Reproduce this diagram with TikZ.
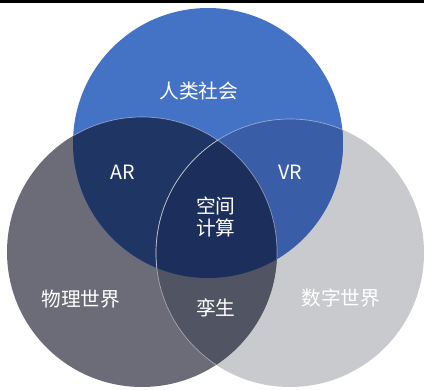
\documentclass[tikz,border=0pt]{standalone}
\usepackage{fontspec}
\newfontfamily\cjk{Noto Sans CJK SC}
\begin{document}
\begin{tikzpicture}[x={0.025cm},y={-0.025cm},
  lbl/.style={text=white,font=\cjk\fontsize{14}{16}\selectfont,inner sep=0pt,align=center},
  edge/.style={draw=white,draw opacity=0.45,line width=0.5pt}]
\definecolor{cTop}{RGB}{68,114,196}
\definecolor{cLeft}{RGB}{107,108,120}
\definecolor{cRight}{RGB}{201,202,206}
\definecolor{cAR}{RGB}{31,53,100}
\definecolor{cVR}{RGB}{58,93,168}
\definecolor{cMid}{RGB}{28,47,92}
\definecolor{cTwin}{RGB}{80,84,99}
\useasboundingbox (0,0) rectangle (424,390);
\fill[white] (0,0) rectangle (424,390);
\coordinate (T) at (208,143);
\coordinate (L) at (142,252);
\coordinate (R) at (290,253);
\def\rT{135}\def\rL{135}\def\rR{134}
% base circles
\fill[cRight] (R) circle[radius=\rR];
\fill[cLeft] (L) circle[radius=\rL];
\fill[cTop] (T) circle[radius=\rT];
% pairwise overlaps
\begin{scope}
  \clip (T) circle[radius=\rT];
  \fill[cAR] (L) circle[radius=\rL];
  \fill[cVR] (R) circle[radius=\rR];
\end{scope}
\begin{scope}
  \clip (L) circle[radius=\rL];
  \fill[cTwin] (R) circle[radius=\rR];
  \clip (T) circle[radius=\rT];
  \fill[cMid] (R) circle[radius=\rR];
\end{scope}
% thin light edges
\begin{scope}
  \clip (T) circle[radius=\rT];
  \draw[edge] (L) circle[radius=\rL];
  \draw[edge] (R) circle[radius=\rR];
\end{scope}
\begin{scope}
  \clip (L) circle[radius=\rL];
  \draw[edge] (R) circle[radius=\rR];
\end{scope}
% top black band
\fill[black] (0,0) rectangle (424,3);
% labels
\node[lbl] (human) at (199,91) {人类社会};
\node[lbl] (ar) at (123,172) {AR};
\node[lbl] (vr) at (290,172) {VR};
\node[lbl] (mid1) at (216,206) {空间};
\node[lbl] (mid2) at (216,228) {计算};
\node[lbl] (phys) at (81,299) {物理世界};
\node[lbl] (twin) at (216,308) {孪生};
\node[lbl] (digi) at (341,298) {数字世界};
\end{tikzpicture}
\end{document}
